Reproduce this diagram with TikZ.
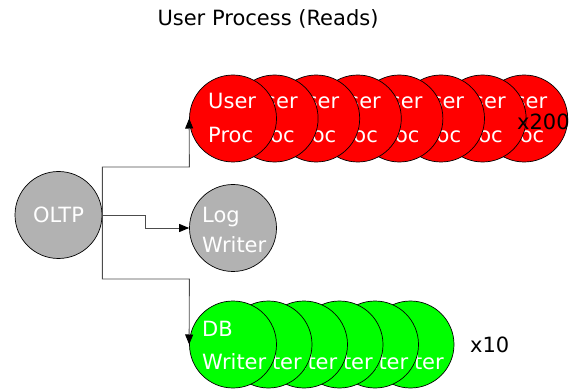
\documentclass[tikz,border=0pt]{standalone}
\usepackage{fontspec}
\setmainfont{DejaVu Sans}
\usetikzlibrary{arrows.meta,calc}

\begin{document}
\begin{tikzpicture}[x=1pt, y=-1pt,
  proc/.style={circle, draw, line width=0.7pt, minimum size=87pt, inner sep=0pt},
  lbl/.style={anchor=base west, text=white, inner sep=0pt, font=\fontsize{21}{21}\selectfont},
  note/.style={inner sep=0pt, font=\fontsize{21}{21}\selectfont},
  wire/.style={-{Triangle[length=10pt,width=8pt,color=black]}, draw=black!70, line width=0.9pt}
]
\useasboundingbox (0,0) rectangle (573,390);

% Title
\node[note] (title) at (268,19) {User Process (Reads)};

% OLTP source
\node[proc, fill=black!30] (oltp) at (58.5,215) {};
\node[note, text=white] (oltptxt) at (oltp) {OLTP};

% User processes, drawn right to left so the first one is on top
\foreach \i in {8,...,1} {
  \node[proc, fill=red] (usr\i) at ({233+41.6*(\i-1)},118.5) {};
  \node[lbl] (usrA\i) at ($(usr\i)+(-25,-9.5)$) {User};
  \node[lbl] (usrB\i) at ($(usr\i)+(-25,24.5)$) {Proc};
}
\node[note, anchor=west] (n200) at (517,122) {x200};

% Log writer
\node[proc, fill=black!30] (log) at (233,228) {};
\node[lbl] (logA) at ($(log)+(-31,-5)$) {Log};
\node[lbl] (logB) at ($(log)+(-31,25)$) {Writer};

% DB writers
\foreach \i in {6,...,1} {
  \node[proc, fill=green] (dbw\i) at ({233+35.5*(\i-1)},344.5) {};
  \node[lbl] (dbwA\i) at ($(dbw\i)+(-31,-8.5)$) {DB};
  \node[lbl] (dbwB\i) at ($(dbw\i)+(-31,24.5)$) {Writer};
}
\node[note, anchor=west] (n10) at (470,345) {x10};

% Wires
\draw[wire] (oltp.east) |- ++(87,-48) -- (usr1.west);
\draw[wire] (oltp.east) -- ++(43,0) |- (log.west);
\draw[wire] (oltp.east) |- ++(87,64) -- (dbw1.west);

\end{tikzpicture}
\end{document}
